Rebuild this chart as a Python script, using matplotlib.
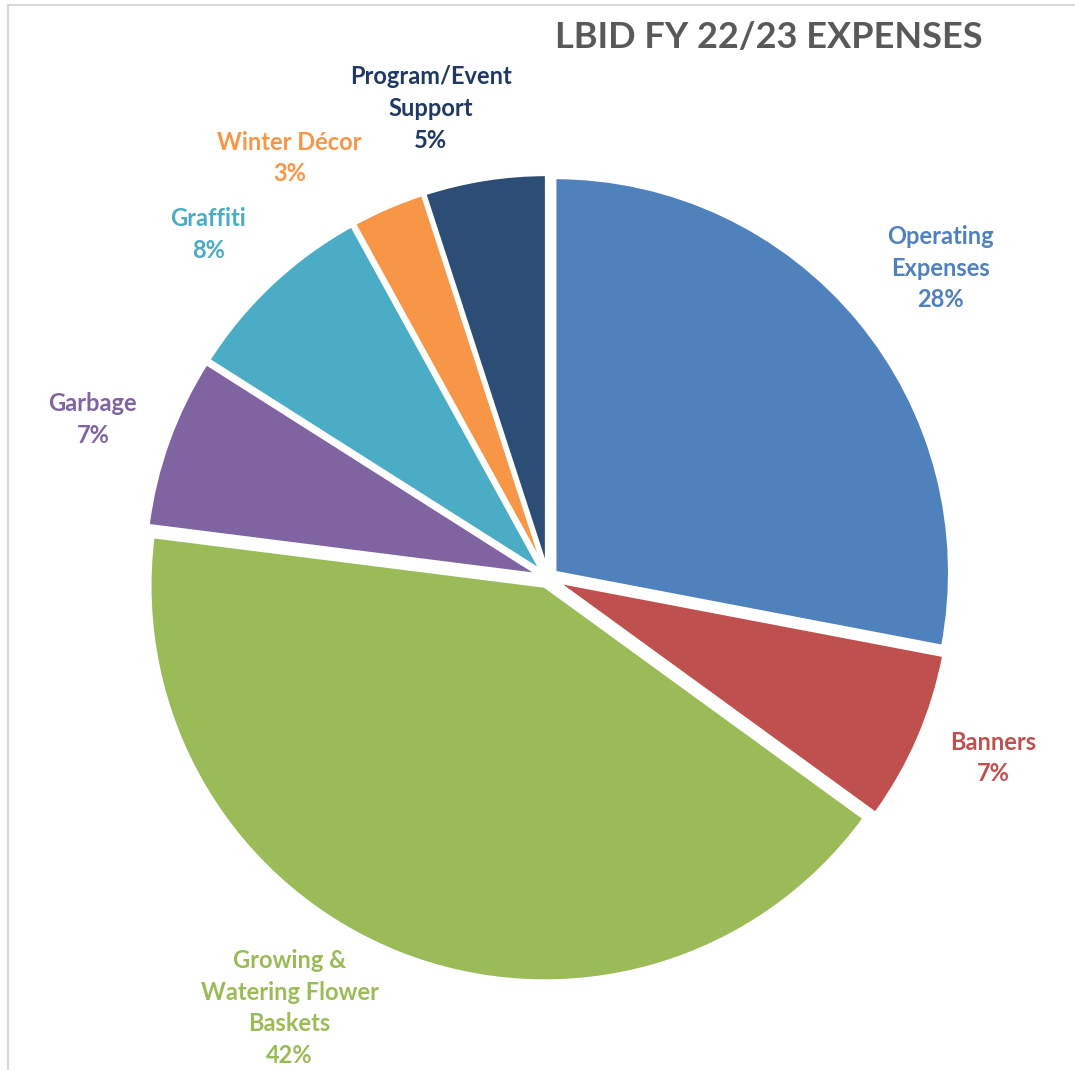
import matplotlib.pyplot as plt
import matplotlib.patches as mpatches
import numpy as np

categories = ["Operating\nExpenses", "Banners", "Growing &\nWatering Flower\nBaskets",
              "Garbage", "Graffiti", "Winter Décor", "Program/Event\nSupport"]
shares = [28, 7, 42, 7, 8, 3, 5]
colors = ["#4F81BD", "#C0504D", "#9BBB59", "#8064A2", "#4BACC6", "#F79646", "#2C4D75"]
text_colors = ["#4F81BD", "#C0504D", "#9BBB59", "#8064A2", "#4BACC6", "#F79646", "#1F3864"]
# label placement: radial distance and angle nudge (degrees) from the wedge middle
label_dist = [1.266, 1.215, 1.27, 1.22, 1.223, 1.248, 1.225]
label_shift = [-1.3, 1.4, -9.4, 0.6, 1.5, 8.2, 5.0]

W, H = 1075, 1070
fig = plt.figure(figsize=(W / 100, H / 100), dpi=100)

# light frame along top and left
fig.add_artist(mpatches.Rectangle((8 / W, -0.1), 1.2, 1 - 5 / H + 0.1, transform=fig.transFigure,
                                  fill=False, edgecolor="#D9D9D9", linewidth=1.5))

cx, cy, R = 548, 578, 395
ax = fig.add_axes([(cx - R) / W, (H - cy - R) / H, 2 * R / W, 2 * R / H])
wedges, _ = ax.pie(shares, colors=colors, startangle=90, counterclock=False,
                   explode=[0.022] * len(shares),
                   wedgeprops=dict(edgecolor="white", linewidth=2.5))
ax.set_xlim(-1, 1)
ax.set_ylim(-1, 1)
ax.set_aspect("equal")
ax.axis("off")

for w, cat, s, tc, d, sh in zip(wedges, categories, shares, text_colors, label_dist, label_shift):
    ang = np.deg2rad((w.theta1 + w.theta2) / 2 + sh)
    ax.text(d * np.cos(ang), d * np.sin(ang), f"{cat}\n{s}%", ha="center", va="center",
            color=tc, fontsize=17, fontweight="bold", family="Lato", linespacing=1.45,
            clip_on=False)

fig.text(983 / W, 1 - 37 / H, "LBID FY 22/23 EXPENSES", ha="right", va="center",
         fontsize=26, fontweight="bold", family="Lato", color="#595959")

fig.savefig("out.png", dpi=100)
